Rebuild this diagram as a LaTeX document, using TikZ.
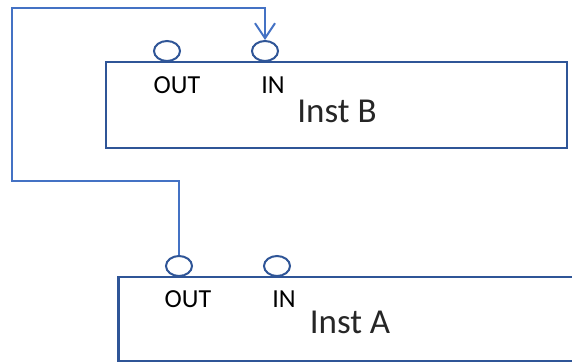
\documentclass[tikz,border=0pt]{standalone}
\usepackage{fontspec}
\setmainfont{Carlito}
\usepackage{tikz}
\usetikzlibrary{shapes.geometric, arrows.meta, positioning}
\definecolor{instdraw}{HTML}{2F5597}
\definecolor{wiredraw}{HTML}{4472C4}
\definecolor{insttext}{HTML}{262626}
\tikzset{
  inst/.style={rectangle, draw=instdraw, line width=2.4pt, fill=white, inner sep=0pt, minimum width=461pt, minimum height=86pt},
  port/.style={ellipse, draw=instdraw, line width=2pt, fill=white, inner sep=0pt, minimum width=26pt, minimum height=20pt, anchor=south},
  pinlab/.style={font=\fontsize{26}{28}\selectfont, text=black, inner sep=0pt},
  instlab/.style={font=\fontsize{35}{38}\selectfont, text=insttext, inner sep=0pt},
  wire/.style={draw=wiredraw, line width=2.2pt},
  arr/.style={wire, -{Straight Barb[length=15pt, width=20pt, line width=2pt]}},
}
\begin{document}
\begin{tikzpicture}[x=1pt, y=-1pt]
  \useasboundingbox (0,0) rectangle (572,363);
  % instance boxes
  \node[inst] (instB) at (336.5,105) {};
  \node[inst, minimum height=84pt] (instA) at (349,319) {};
  % ports
  \node[port] (outB) at (167,62) {};
  \node[port] (inB) at (265,62) {};
  \node[port] (outA) at (179,277) {};
  \node[port] (inA) at (277,277) {};
  % labels
  \node[pinlab] (outBlab) at (177,85) {OUT};
  \node[pinlab] (inBlab) at (273,85) {IN};
  \node[instlab] (instBlab) at (337,111) {Inst B};
  \node[pinlab] (outAlab) at (188,299) {OUT};
  \node[pinlab] (inAlab) at (284,299) {IN};
  \node[instlab] (instAlab) at (350,322) {Inst A};
  % feedback wire
  \coordinate (w1) at (12,181);
  \coordinate (w2) at (12,8);
  \draw[arr] (outA.north) |- (w1) -- (w2) -| (inB.north);
\end{tikzpicture}
\end{document}
